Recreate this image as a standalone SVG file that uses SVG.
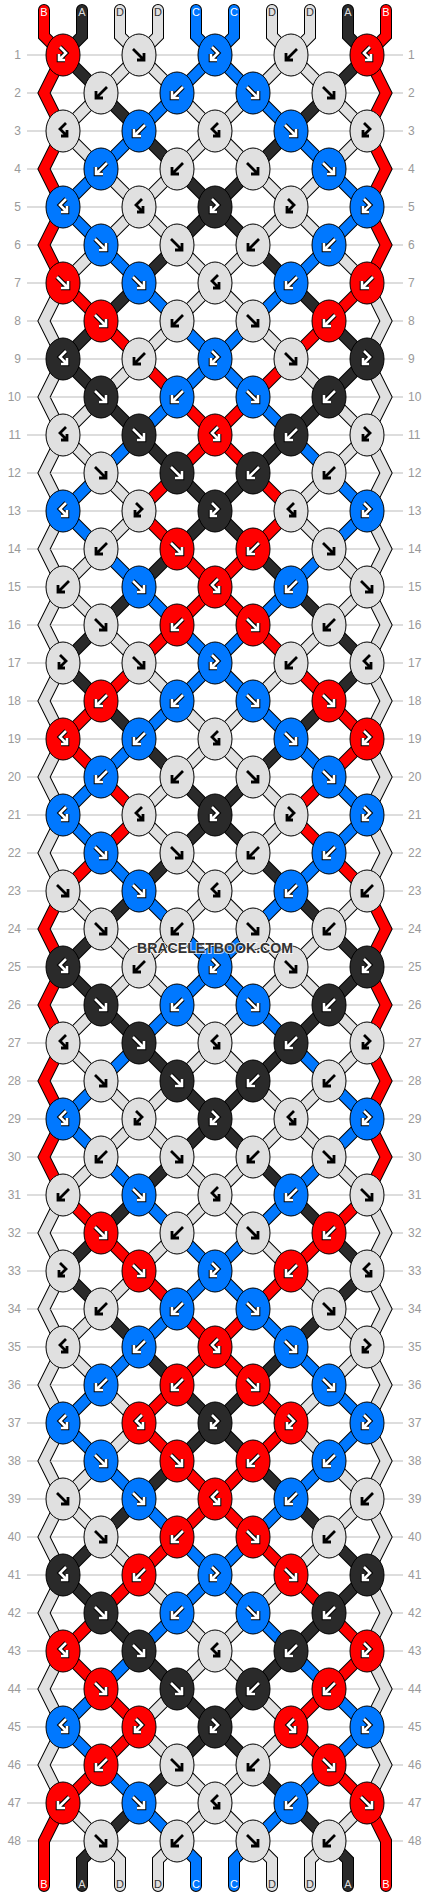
<svg xmlns="http://www.w3.org/2000/svg" xmlns:xlink="http://www.w3.org/1999/xlink" width="430" height="1896" viewBox="0 0 430 1896">
<style>
.o{fill:none;stroke:#000;stroke-width:12;stroke-linecap:round}
.c{fill:none;stroke-width:10;stroke-linecap:round}
.cR{stroke:#ff0000}.cK{stroke:#2a2a2a}.cG{stroke:#e0e0e0}.cL{stroke:#0078ff}
.eR{fill:#ff0000}.eK{fill:#2a2a2a}.eG{fill:#e0e0e0}.eL{fill:#0078ff}
ellipse{stroke:#000;stroke-width:1}
.wo{fill:none;stroke:#000;stroke-width:4.6}
.wi{fill:none;stroke:#fff;stroke-width:2.6}
.bk{fill:none;stroke:#000;stroke-width:2.8}
.grid{stroke:#bbb;stroke-width:1;fill:none}
.rl,.rr{font-family:"Liberation Sans",Arial,sans-serif;font-size:12px;fill:#999}
.rl{text-anchor:end}.rr{text-anchor:start}
.sl{font-family:"Liberation Sans",Arial,sans-serif;font-size:11px;text-anchor:middle}
</style>
<defs>
<path id="aF" d="M-6,-6L4,4M-2,5H5V-2"/>
<path id="aB" d="M6,-6L-4,4M2,5H-5V-2"/>
<path id="aFB" d="M-3,-8L3,-2L-3,4M-4,-1V5H2"/>
<path id="aBF" d="M3,-8L-3,-2L3,4M4,-1V5H-2"/>
<g id="RF"><ellipse rx="17" ry="21" class="eR"/><use href="#aF" class="wo"/><use href="#aF" class="wi"/></g>
<g id="RB"><ellipse rx="17" ry="21" class="eR"/><use href="#aB" class="wo"/><use href="#aB" class="wi"/></g>
<g id="RFB"><ellipse rx="17" ry="21" class="eR"/><use href="#aFB" class="wo"/><use href="#aFB" class="wi"/></g>
<g id="RBF"><ellipse rx="17" ry="21" class="eR"/><use href="#aBF" class="wo"/><use href="#aBF" class="wi"/></g>
<g id="KF"><ellipse rx="17" ry="21" class="eK"/><use href="#aF" class="wo"/><use href="#aF" class="wi"/></g>
<g id="KB"><ellipse rx="17" ry="21" class="eK"/><use href="#aB" class="wo"/><use href="#aB" class="wi"/></g>
<g id="KFB"><ellipse rx="17" ry="21" class="eK"/><use href="#aFB" class="wo"/><use href="#aFB" class="wi"/></g>
<g id="KBF"><ellipse rx="17" ry="21" class="eK"/><use href="#aBF" class="wo"/><use href="#aBF" class="wi"/></g>
<g id="LF"><ellipse rx="17" ry="21" class="eL"/><use href="#aF" class="wo"/><use href="#aF" class="wi"/></g>
<g id="LB"><ellipse rx="17" ry="21" class="eL"/><use href="#aB" class="wo"/><use href="#aB" class="wi"/></g>
<g id="LFB"><ellipse rx="17" ry="21" class="eL"/><use href="#aFB" class="wo"/><use href="#aFB" class="wi"/></g>
<g id="LBF"><ellipse rx="17" ry="21" class="eL"/><use href="#aBF" class="wo"/><use href="#aBF" class="wi"/></g>
<g id="GF"><ellipse rx="17" ry="21" class="eG"/><use href="#aF" class="bk"/></g>
<g id="GB"><ellipse rx="17" ry="21" class="eG"/><use href="#aB" class="bk"/></g>
<g id="GFB"><ellipse rx="17" ry="21" class="eG"/><use href="#aFB" class="bk"/></g>
<g id="GBF"><ellipse rx="17" ry="21" class="eG"/><use href="#aBF" class="bk"/></g>
<path id="AK" d="M63,55l38,38M367,55l-38,38M101,93l38,38M329,93l-38,38M139,131l38,38M291,131l-38,38M177,169l38,38M253,169l-38,38M177,245l38,-38l38,38M177,245l-38,38M253,245l38,38"/>
<path id="AG" d="M101,93l38,-38l38,38M253,93l38,-38l38,38M101,93l-38,38M177,93l38,38M253,93l-38,38M329,93l38,38M63,131l38,38M177,169l38,-38l38,38M367,131l-38,38M101,169l38,38M177,169l-38,38M253,169l38,38M329,169l-38,38M101,245l38,-38l38,38M253,245l38,-38l38,38M101,245l-38,38M177,245l38,38M253,245l-38,38M329,245l38,38"/>
<path id="AL" d="M177,93l38,-38l38,38M177,93l-38,38M253,93l38,38M139,131l-38,38M291,131l38,38M101,169l-38,38M329,169l38,38M63,207l38,38M367,207l-38,38M101,245l38,38M329,245l-38,38"/>
<path id="AR" d="M63,55L44,93L63,131L44,169L63,207L44,245L63,283M367,55L386,93L367,131L386,169L367,207L386,245L367,283"/>
<path id="BR" d="M63,283l38,38M367,283l-38,38M101,321l38,38M329,321l-38,38M139,359l38,38M291,359l-38,38M177,397l38,38M253,397l-38,38M177,473l38,-38l38,38M177,473l-38,38M253,473l38,38M139,511l38,38M291,511l-38,38M177,549l38,38M253,549l-38,38M177,625l38,-38l38,38M177,625l-38,38M253,625l38,38M139,663l-38,38M291,663l38,38M101,701l-38,38M329,701l38,38M63,739l38,38M367,739l-38,38M101,777l38,38M329,777l-38,38M139,815l-38,38M291,815l38,38M101,853l-38,38M329,853l38,38"/>
<path id="BK" d="M139,283l-38,38M291,283l38,38M101,321l-38,38M329,321l38,38M63,359l38,38M367,359l-38,38M101,397l38,38M329,397l-38,38M139,435l38,38M291,435l-38,38M177,473l38,38M253,473l-38,38M177,549l38,-38l38,38M177,549l-38,38M253,549l38,38M139,587l-38,38M291,587l38,38M101,625l-38,38M329,625l38,38M63,663l38,38M367,663l-38,38M101,701l38,38M329,701l-38,38M139,739l38,38M291,739l-38,38M177,777l38,38M253,777l-38,38M177,853l38,-38l38,38M177,853l-38,38M253,853l38,38M139,891l-38,38M291,891l38,38"/>
<path id="BL" d="M139,283l38,38M291,283l-38,38M177,321l38,38M253,321l-38,38M177,397l38,-38l38,38M177,397l-38,38M253,397l38,38M139,435l-38,38M291,435l38,38M101,473l-38,38M329,473l38,38M63,511l38,38M367,511l-38,38M101,549l38,38M329,549l-38,38M139,587l38,38M291,587l-38,38M177,625l38,38M253,625l-38,38M177,701l38,-38l38,38M177,701l-38,38M253,701l38,38M139,739l-38,38M291,739l38,38M101,777l-38,38M329,777l38,38M63,815l38,38M367,815l-38,38M101,853l38,38M329,853l-38,38M139,891l38,38M291,891l-38,38"/>
<path id="BG" d="M177,321l38,-38l38,38M177,321l-38,38M253,321l38,38M139,359l-38,38M291,359l38,38M101,397l-38,38M329,397l38,38M63,435l38,38M367,435l-38,38M101,473l38,38M329,473l-38,38M139,511l-38,38M291,511l38,38M101,549l-38,38M329,549l38,38M63,587l38,38M367,587l-38,38M101,625l38,38M329,625l-38,38M139,663l38,38M291,663l-38,38M177,701l38,38M253,701l-38,38M177,777l38,-38l38,38M177,777l-38,38M253,777l38,38M139,815l38,38M291,815l-38,38M177,853l38,38M253,853l-38,38M63,891l38,38M367,891l-38,38M177,929l38,-38l38,38M63,283L44,321L63,359L44,397L63,435L44,473L63,511L44,549L63,587L44,625L63,663L44,701L63,739L44,777L63,815L44,853L63,891M367,283L386,321L367,359L386,397L367,435L386,473L367,511L386,549L367,587L386,625L367,663L386,701L367,739L386,777L367,815L386,853L367,891"/>
<path id="SR" d="M44,10L44,36L63,55M386,10L386,36L367,55M63,891L44,929L63,967M367,891L386,929L367,967M63,1803L44,1841L44,1886M367,1803L386,1841L386,1886"/>
<path id="SK" d="M82,10L82,36L63,55M348,10L348,36L367,55M101,929l-38,38M329,929l38,38M101,1841L82,1860L82,1886M329,1841L348,1860L348,1886"/>
<path id="SG" d="M120,10L120,36L139,55M158,10L158,36L139,55M272,10L272,36L291,55M310,10L310,36L291,55M101,929l38,38M329,929l-38,38M177,929l-38,38M253,929l38,38M101,1841L120,1860L120,1886M177,1841L158,1860L158,1886M253,1841L272,1860L272,1886M329,1841L310,1860L310,1886"/>
<path id="SL" d="M196,10L196,36L215,55M234,10L234,36L215,55M177,929l38,38M253,929l-38,38M177,1841L196,1860L196,1886M253,1841L234,1860L234,1886"/>
</defs>
<rect width="430" height="1896" fill="#fff"/>
<path class="grid" d="M27,55h376M27,93h376M27,131h376M27,169h376M27,207h376M27,245h376M27,283h376M27,321h376M27,359h376M27,397h376M27,435h376M27,473h376M27,511h376M27,549h376M27,587h376M27,625h376M27,663h376M27,701h376M27,739h376M27,777h376M27,815h376M27,853h376M27,891h376M27,929h376M27,967h376M27,1005h376M27,1043h376M27,1081h376M27,1119h376M27,1157h376M27,1195h376M27,1233h376M27,1271h376M27,1309h376M27,1347h376M27,1385h376M27,1423h376M27,1461h376M27,1499h376M27,1537h376M27,1575h376M27,1613h376M27,1651h376M27,1689h376M27,1727h376M27,1765h376M27,1803h376M27,1841h376"/>
<g id="row-labels">
<text class="rl" x="21" y="59">1</text><text class="rr" x="408" y="59">1</text>
<text class="rl" x="21" y="97">2</text><text class="rr" x="408" y="97">2</text>
<text class="rl" x="21" y="135">3</text><text class="rr" x="408" y="135">3</text>
<text class="rl" x="21" y="173">4</text><text class="rr" x="408" y="173">4</text>
<text class="rl" x="21" y="211">5</text><text class="rr" x="408" y="211">5</text>
<text class="rl" x="21" y="249">6</text><text class="rr" x="408" y="249">6</text>
<text class="rl" x="21" y="287">7</text><text class="rr" x="408" y="287">7</text>
<text class="rl" x="21" y="325">8</text><text class="rr" x="408" y="325">8</text>
<text class="rl" x="21" y="363">9</text><text class="rr" x="408" y="363">9</text>
<text class="rl" x="21" y="401">10</text><text class="rr" x="408" y="401">10</text>
<text class="rl" x="21" y="439">11</text><text class="rr" x="408" y="439">11</text>
<text class="rl" x="21" y="477">12</text><text class="rr" x="408" y="477">12</text>
<text class="rl" x="21" y="515">13</text><text class="rr" x="408" y="515">13</text>
<text class="rl" x="21" y="553">14</text><text class="rr" x="408" y="553">14</text>
<text class="rl" x="21" y="591">15</text><text class="rr" x="408" y="591">15</text>
<text class="rl" x="21" y="629">16</text><text class="rr" x="408" y="629">16</text>
<text class="rl" x="21" y="667">17</text><text class="rr" x="408" y="667">17</text>
<text class="rl" x="21" y="705">18</text><text class="rr" x="408" y="705">18</text>
<text class="rl" x="21" y="743">19</text><text class="rr" x="408" y="743">19</text>
<text class="rl" x="21" y="781">20</text><text class="rr" x="408" y="781">20</text>
<text class="rl" x="21" y="819">21</text><text class="rr" x="408" y="819">21</text>
<text class="rl" x="21" y="857">22</text><text class="rr" x="408" y="857">22</text>
<text class="rl" x="21" y="895">23</text><text class="rr" x="408" y="895">23</text>
<text class="rl" x="21" y="933">24</text><text class="rr" x="408" y="933">24</text>
<text class="rl" x="21" y="971">25</text><text class="rr" x="408" y="971">25</text>
<text class="rl" x="21" y="1009">26</text><text class="rr" x="408" y="1009">26</text>
<text class="rl" x="21" y="1047">27</text><text class="rr" x="408" y="1047">27</text>
<text class="rl" x="21" y="1085">28</text><text class="rr" x="408" y="1085">28</text>
<text class="rl" x="21" y="1123">29</text><text class="rr" x="408" y="1123">29</text>
<text class="rl" x="21" y="1161">30</text><text class="rr" x="408" y="1161">30</text>
<text class="rl" x="21" y="1199">31</text><text class="rr" x="408" y="1199">31</text>
<text class="rl" x="21" y="1237">32</text><text class="rr" x="408" y="1237">32</text>
<text class="rl" x="21" y="1275">33</text><text class="rr" x="408" y="1275">33</text>
<text class="rl" x="21" y="1313">34</text><text class="rr" x="408" y="1313">34</text>
<text class="rl" x="21" y="1351">35</text><text class="rr" x="408" y="1351">35</text>
<text class="rl" x="21" y="1389">36</text><text class="rr" x="408" y="1389">36</text>
<text class="rl" x="21" y="1427">37</text><text class="rr" x="408" y="1427">37</text>
<text class="rl" x="21" y="1465">38</text><text class="rr" x="408" y="1465">38</text>
<text class="rl" x="21" y="1503">39</text><text class="rr" x="408" y="1503">39</text>
<text class="rl" x="21" y="1541">40</text><text class="rr" x="408" y="1541">40</text>
<text class="rl" x="21" y="1579">41</text><text class="rr" x="408" y="1579">41</text>
<text class="rl" x="21" y="1617">42</text><text class="rr" x="408" y="1617">42</text>
<text class="rl" x="21" y="1655">43</text><text class="rr" x="408" y="1655">43</text>
<text class="rl" x="21" y="1693">44</text><text class="rr" x="408" y="1693">44</text>
<text class="rl" x="21" y="1731">45</text><text class="rr" x="408" y="1731">45</text>
<text class="rl" x="21" y="1769">46</text><text class="rr" x="408" y="1769">46</text>
<text class="rl" x="21" y="1807">47</text><text class="rr" x="408" y="1807">47</text>
<text class="rl" x="21" y="1845">48</text><text class="rr" x="408" y="1845">48</text>
</g>
<g id="connectors">
<g class="o">
<use href="#SR"/><use href="#SK"/><use href="#SG"/><use href="#SL"/>
<use href="#AR"/><use href="#AK"/><use href="#AG"/><use href="#AL"/>
<use href="#AR" y="912"/><use href="#AK" y="912"/><use href="#AG" y="912"/><use href="#AL" y="912"/>
<use href="#BR"/><use href="#BK"/><use href="#BG"/><use href="#BL"/>
<use href="#BR" y="912"/><use href="#BK" y="912"/><use href="#BG" y="912"/><use href="#BL" y="912"/>
</g>
<g class="c">
<use href="#SR" class="cR"/><use href="#SK" class="cK"/><use href="#SG" class="cG"/><use href="#SL" class="cL"/>
<use href="#AR" class="cR"/><use href="#AK" class="cK"/><use href="#AG" class="cG"/><use href="#AL" class="cL"/>
<use href="#AR" y="912" class="cR"/><use href="#AK" y="912" class="cK"/><use href="#AG" y="912" class="cG"/><use href="#AL" y="912" class="cL"/>
<use href="#BR" class="cR"/><use href="#BK" class="cK"/><use href="#BG" class="cG"/><use href="#BL" class="cL"/>
<use href="#BR" y="912" class="cR"/><use href="#BK" y="912" class="cK"/><use href="#BG" y="912" class="cG"/><use href="#BL" y="912" class="cL"/>
</g>
</g>
<g id="strand-labels">
<text class="sl" x="44" y="16" fill="#fff">B</text><text class="sl" x="82" y="16" fill="#ddd">A</text><text class="sl" x="120" y="16" fill="#333">D</text><text class="sl" x="158" y="16" fill="#333">D</text><text class="sl" x="196" y="16" fill="#fff">C</text><text class="sl" x="234" y="16" fill="#fff">C</text><text class="sl" x="272" y="16" fill="#333">D</text><text class="sl" x="310" y="16" fill="#333">D</text><text class="sl" x="348" y="16" fill="#ddd">A</text><text class="sl" x="386" y="16" fill="#fff">B</text>
<text class="sl" x="44" y="1888" fill="#fff">B</text><text class="sl" x="82" y="1888" fill="#ddd">A</text><text class="sl" x="120" y="1888" fill="#333">D</text><text class="sl" x="158" y="1888" fill="#333">D</text><text class="sl" x="196" y="1888" fill="#fff">C</text><text class="sl" x="234" y="1888" fill="#fff">C</text><text class="sl" x="272" y="1888" fill="#333">D</text><text class="sl" x="310" y="1888" fill="#333">D</text><text class="sl" x="348" y="1888" fill="#ddd">A</text><text class="sl" x="386" y="1888" fill="#fff">B</text>
</g>
<g id="knots">
<g id="r1k1"><use href="#RFB" x="63" y="55"/></g><g id="r1k2"><use href="#GF" x="139" y="55"/></g><g id="r1k3"><use href="#LFB" x="215" y="55"/></g><g id="r1k4"><use href="#GB" x="291" y="55"/></g><g id="r1k5"><use href="#RBF" x="367" y="55"/></g>
<g id="r2k1"><use href="#GB" x="101" y="93"/></g><g id="r2k2"><use href="#LB" x="177" y="93"/></g><g id="r2k3"><use href="#LF" x="253" y="93"/></g><g id="r2k4"><use href="#GF" x="329" y="93"/></g>
<g id="r3k1"><use href="#GBF" x="63" y="131"/></g><g id="r3k2"><use href="#LB" x="139" y="131"/></g><g id="r3k3"><use href="#GBF" x="215" y="131"/></g><g id="r3k4"><use href="#LF" x="291" y="131"/></g><g id="r3k5"><use href="#GFB" x="367" y="131"/></g>
<g id="r4k1"><use href="#LB" x="101" y="169"/></g><g id="r4k2"><use href="#GB" x="177" y="169"/></g><g id="r4k3"><use href="#GF" x="253" y="169"/></g><g id="r4k4"><use href="#LF" x="329" y="169"/></g>
<g id="r5k1"><use href="#LBF" x="63" y="207"/></g><g id="r5k2"><use href="#GBF" x="139" y="207"/></g><g id="r5k3"><use href="#KFB" x="215" y="207"/></g><g id="r5k4"><use href="#GFB" x="291" y="207"/></g><g id="r5k5"><use href="#LFB" x="367" y="207"/></g>
<g id="r6k1"><use href="#LF" x="101" y="245"/></g><g id="r6k2"><use href="#GF" x="177" y="245"/></g><g id="r6k3"><use href="#GB" x="253" y="245"/></g><g id="r6k4"><use href="#LB" x="329" y="245"/></g>
<g id="r7k1"><use href="#RF" x="63" y="283"/></g><g id="r7k2"><use href="#LF" x="139" y="283"/></g><g id="r7k3"><use href="#GBF" x="215" y="283"/></g><g id="r7k4"><use href="#LB" x="291" y="283"/></g><g id="r7k5"><use href="#RB" x="367" y="283"/></g>
<g id="r8k1"><use href="#RF" x="101" y="321"/></g><g id="r8k2"><use href="#GB" x="177" y="321"/></g><g id="r8k3"><use href="#GF" x="253" y="321"/></g><g id="r8k4"><use href="#RB" x="329" y="321"/></g>
<g id="r9k1"><use href="#KBF" x="63" y="359"/></g><g id="r9k2"><use href="#GB" x="139" y="359"/></g><g id="r9k3"><use href="#LFB" x="215" y="359"/></g><g id="r9k4"><use href="#GF" x="291" y="359"/></g><g id="r9k5"><use href="#KFB" x="367" y="359"/></g>
<g id="r10k1"><use href="#KF" x="101" y="397"/></g><g id="r10k2"><use href="#LB" x="177" y="397"/></g><g id="r10k3"><use href="#LF" x="253" y="397"/></g><g id="r10k4"><use href="#KB" x="329" y="397"/></g>
<g id="r11k1"><use href="#GBF" x="63" y="435"/></g><g id="r11k2"><use href="#KF" x="139" y="435"/></g><g id="r11k3"><use href="#RBF" x="215" y="435"/></g><g id="r11k4"><use href="#KB" x="291" y="435"/></g><g id="r11k5"><use href="#GFB" x="367" y="435"/></g>
<g id="r12k1"><use href="#GF" x="101" y="473"/></g><g id="r12k2"><use href="#KF" x="177" y="473"/></g><g id="r12k3"><use href="#KB" x="253" y="473"/></g><g id="r12k4"><use href="#GB" x="329" y="473"/></g>
<g id="r13k1"><use href="#LBF" x="63" y="511"/></g><g id="r13k2"><use href="#GFB" x="139" y="511"/></g><g id="r13k3"><use href="#KFB" x="215" y="511"/></g><g id="r13k4"><use href="#GBF" x="291" y="511"/></g><g id="r13k5"><use href="#LFB" x="367" y="511"/></g>
<g id="r14k1"><use href="#GB" x="101" y="549"/></g><g id="r14k2"><use href="#RF" x="177" y="549"/></g><g id="r14k3"><use href="#RB" x="253" y="549"/></g><g id="r14k4"><use href="#GF" x="329" y="549"/></g>
<g id="r15k1"><use href="#GB" x="63" y="587"/></g><g id="r15k2"><use href="#LF" x="139" y="587"/></g><g id="r15k3"><use href="#RBF" x="215" y="587"/></g><g id="r15k4"><use href="#LB" x="291" y="587"/></g><g id="r15k5"><use href="#GF" x="367" y="587"/></g>
<g id="r16k1"><use href="#GF" x="101" y="625"/></g><g id="r16k2"><use href="#RB" x="177" y="625"/></g><g id="r16k3"><use href="#RF" x="253" y="625"/></g><g id="r16k4"><use href="#GB" x="329" y="625"/></g>
<g id="r17k1"><use href="#GFB" x="63" y="663"/></g><g id="r17k2"><use href="#GF" x="139" y="663"/></g><g id="r17k3"><use href="#LFB" x="215" y="663"/></g><g id="r17k4"><use href="#GB" x="291" y="663"/></g><g id="r17k5"><use href="#GBF" x="367" y="663"/></g>
<g id="r18k1"><use href="#RB" x="101" y="701"/></g><g id="r18k2"><use href="#LB" x="177" y="701"/></g><g id="r18k3"><use href="#LF" x="253" y="701"/></g><g id="r18k4"><use href="#RF" x="329" y="701"/></g>
<g id="r19k1"><use href="#RBF" x="63" y="739"/></g><g id="r19k2"><use href="#LB" x="139" y="739"/></g><g id="r19k3"><use href="#GBF" x="215" y="739"/></g><g id="r19k4"><use href="#LF" x="291" y="739"/></g><g id="r19k5"><use href="#RFB" x="367" y="739"/></g>
<g id="r20k1"><use href="#LB" x="101" y="777"/></g><g id="r20k2"><use href="#GB" x="177" y="777"/></g><g id="r20k3"><use href="#GF" x="253" y="777"/></g><g id="r20k4"><use href="#LF" x="329" y="777"/></g>
<g id="r21k1"><use href="#LBF" x="63" y="815"/></g><g id="r21k2"><use href="#GBF" x="139" y="815"/></g><g id="r21k3"><use href="#KFB" x="215" y="815"/></g><g id="r21k4"><use href="#GFB" x="291" y="815"/></g><g id="r21k5"><use href="#LFB" x="367" y="815"/></g>
<g id="r22k1"><use href="#LF" x="101" y="853"/></g><g id="r22k2"><use href="#GF" x="177" y="853"/></g><g id="r22k3"><use href="#GB" x="253" y="853"/></g><g id="r22k4"><use href="#LB" x="329" y="853"/></g>
<g id="r23k1"><use href="#GF" x="63" y="891"/></g><g id="r23k2"><use href="#LF" x="139" y="891"/></g><g id="r23k3"><use href="#GBF" x="215" y="891"/></g><g id="r23k4"><use href="#LB" x="291" y="891"/></g><g id="r23k5"><use href="#GB" x="367" y="891"/></g>
<g id="r24k1"><use href="#GF" x="101" y="929"/></g><g id="r24k2"><use href="#GB" x="177" y="929"/></g><g id="r24k3"><use href="#GF" x="253" y="929"/></g><g id="r24k4"><use href="#GB" x="329" y="929"/></g>
<g id="r25k1"><use href="#KBF" x="63" y="967"/></g><g id="r25k2"><use href="#GB" x="139" y="967"/></g><g id="r25k3"><use href="#LFB" x="215" y="967"/></g><g id="r25k4"><use href="#GF" x="291" y="967"/></g><g id="r25k5"><use href="#KFB" x="367" y="967"/></g>
<g id="r26k1"><use href="#KF" x="101" y="1005"/></g><g id="r26k2"><use href="#LB" x="177" y="1005"/></g><g id="r26k3"><use href="#LF" x="253" y="1005"/></g><g id="r26k4"><use href="#KB" x="329" y="1005"/></g>
<g id="r27k1"><use href="#GBF" x="63" y="1043"/></g><g id="r27k2"><use href="#KF" x="139" y="1043"/></g><g id="r27k3"><use href="#GBF" x="215" y="1043"/></g><g id="r27k4"><use href="#KB" x="291" y="1043"/></g><g id="r27k5"><use href="#GFB" x="367" y="1043"/></g>
<g id="r28k1"><use href="#GF" x="101" y="1081"/></g><g id="r28k2"><use href="#KF" x="177" y="1081"/></g><g id="r28k3"><use href="#KB" x="253" y="1081"/></g><g id="r28k4"><use href="#GB" x="329" y="1081"/></g>
<g id="r29k1"><use href="#LBF" x="63" y="1119"/></g><g id="r29k2"><use href="#GFB" x="139" y="1119"/></g><g id="r29k3"><use href="#KFB" x="215" y="1119"/></g><g id="r29k4"><use href="#GBF" x="291" y="1119"/></g><g id="r29k5"><use href="#LFB" x="367" y="1119"/></g>
<g id="r30k1"><use href="#GB" x="101" y="1157"/></g><g id="r30k2"><use href="#GF" x="177" y="1157"/></g><g id="r30k3"><use href="#GB" x="253" y="1157"/></g><g id="r30k4"><use href="#GF" x="329" y="1157"/></g>
<g id="r31k1"><use href="#GB" x="63" y="1195"/></g><g id="r31k2"><use href="#LF" x="139" y="1195"/></g><g id="r31k3"><use href="#GBF" x="215" y="1195"/></g><g id="r31k4"><use href="#LB" x="291" y="1195"/></g><g id="r31k5"><use href="#GF" x="367" y="1195"/></g>
<g id="r32k1"><use href="#RF" x="101" y="1233"/></g><g id="r32k2"><use href="#GB" x="177" y="1233"/></g><g id="r32k3"><use href="#GF" x="253" y="1233"/></g><g id="r32k4"><use href="#RB" x="329" y="1233"/></g>
<g id="r33k1"><use href="#GFB" x="63" y="1271"/></g><g id="r33k2"><use href="#RF" x="139" y="1271"/></g><g id="r33k3"><use href="#LFB" x="215" y="1271"/></g><g id="r33k4"><use href="#RB" x="291" y="1271"/></g><g id="r33k5"><use href="#GBF" x="367" y="1271"/></g>
<g id="r34k1"><use href="#GB" x="101" y="1309"/></g><g id="r34k2"><use href="#LB" x="177" y="1309"/></g><g id="r34k3"><use href="#LF" x="253" y="1309"/></g><g id="r34k4"><use href="#GF" x="329" y="1309"/></g>
<g id="r35k1"><use href="#GBF" x="63" y="1347"/></g><g id="r35k2"><use href="#LB" x="139" y="1347"/></g><g id="r35k3"><use href="#RBF" x="215" y="1347"/></g><g id="r35k4"><use href="#LF" x="291" y="1347"/></g><g id="r35k5"><use href="#GFB" x="367" y="1347"/></g>
<g id="r36k1"><use href="#LB" x="101" y="1385"/></g><g id="r36k2"><use href="#RB" x="177" y="1385"/></g><g id="r36k3"><use href="#RF" x="253" y="1385"/></g><g id="r36k4"><use href="#LF" x="329" y="1385"/></g>
<g id="r37k1"><use href="#LBF" x="63" y="1423"/></g><g id="r37k2"><use href="#RBF" x="139" y="1423"/></g><g id="r37k3"><use href="#KFB" x="215" y="1423"/></g><g id="r37k4"><use href="#RFB" x="291" y="1423"/></g><g id="r37k5"><use href="#LFB" x="367" y="1423"/></g>
<g id="r38k1"><use href="#LF" x="101" y="1461"/></g><g id="r38k2"><use href="#RF" x="177" y="1461"/></g><g id="r38k3"><use href="#RB" x="253" y="1461"/></g><g id="r38k4"><use href="#LB" x="329" y="1461"/></g>
<g id="r39k1"><use href="#GF" x="63" y="1499"/></g><g id="r39k2"><use href="#LF" x="139" y="1499"/></g><g id="r39k3"><use href="#RBF" x="215" y="1499"/></g><g id="r39k4"><use href="#LB" x="291" y="1499"/></g><g id="r39k5"><use href="#GB" x="367" y="1499"/></g>
<g id="r40k1"><use href="#GF" x="101" y="1537"/></g><g id="r40k2"><use href="#RB" x="177" y="1537"/></g><g id="r40k3"><use href="#RF" x="253" y="1537"/></g><g id="r40k4"><use href="#GB" x="329" y="1537"/></g>
<g id="r41k1"><use href="#KBF" x="63" y="1575"/></g><g id="r41k2"><use href="#RB" x="139" y="1575"/></g><g id="r41k3"><use href="#LFB" x="215" y="1575"/></g><g id="r41k4"><use href="#RF" x="291" y="1575"/></g><g id="r41k5"><use href="#KFB" x="367" y="1575"/></g>
<g id="r42k1"><use href="#KF" x="101" y="1613"/></g><g id="r42k2"><use href="#LB" x="177" y="1613"/></g><g id="r42k3"><use href="#LF" x="253" y="1613"/></g><g id="r42k4"><use href="#KB" x="329" y="1613"/></g>
<g id="r43k1"><use href="#RBF" x="63" y="1651"/></g><g id="r43k2"><use href="#KF" x="139" y="1651"/></g><g id="r43k3"><use href="#GBF" x="215" y="1651"/></g><g id="r43k4"><use href="#KB" x="291" y="1651"/></g><g id="r43k5"><use href="#RFB" x="367" y="1651"/></g>
<g id="r44k1"><use href="#RF" x="101" y="1689"/></g><g id="r44k2"><use href="#KF" x="177" y="1689"/></g><g id="r44k3"><use href="#KB" x="253" y="1689"/></g><g id="r44k4"><use href="#RB" x="329" y="1689"/></g>
<g id="r45k1"><use href="#LBF" x="63" y="1727"/></g><g id="r45k2"><use href="#RFB" x="139" y="1727"/></g><g id="r45k3"><use href="#KFB" x="215" y="1727"/></g><g id="r45k4"><use href="#RBF" x="291" y="1727"/></g><g id="r45k5"><use href="#LFB" x="367" y="1727"/></g>
<g id="r46k1"><use href="#RB" x="101" y="1765"/></g><g id="r46k2"><use href="#GF" x="177" y="1765"/></g><g id="r46k3"><use href="#GB" x="253" y="1765"/></g><g id="r46k4"><use href="#RF" x="329" y="1765"/></g>
<g id="r47k1"><use href="#RB" x="63" y="1803"/></g><g id="r47k2"><use href="#LF" x="139" y="1803"/></g><g id="r47k3"><use href="#GBF" x="215" y="1803"/></g><g id="r47k4"><use href="#LB" x="291" y="1803"/></g><g id="r47k5"><use href="#RF" x="367" y="1803"/></g>
<g id="r48k1"><use href="#GF" x="101" y="1841"/></g><g id="r48k2"><use href="#GB" x="177" y="1841"/></g><g id="r48k3"><use href="#GF" x="253" y="1841"/></g><g id="r48k4"><use href="#GB" x="329" y="1841"/></g>
</g>
<text x="215" y="953" text-anchor="middle" font-family="'Liberation Sans',Arial,sans-serif" font-weight="bold" font-size="15" fill="#333" stroke="#fff" stroke-opacity="0.7" stroke-width="2" paint-order="stroke" textLength="156" lengthAdjust="spacingAndGlyphs">BRACELETBOOK.COM</text>
</svg>
